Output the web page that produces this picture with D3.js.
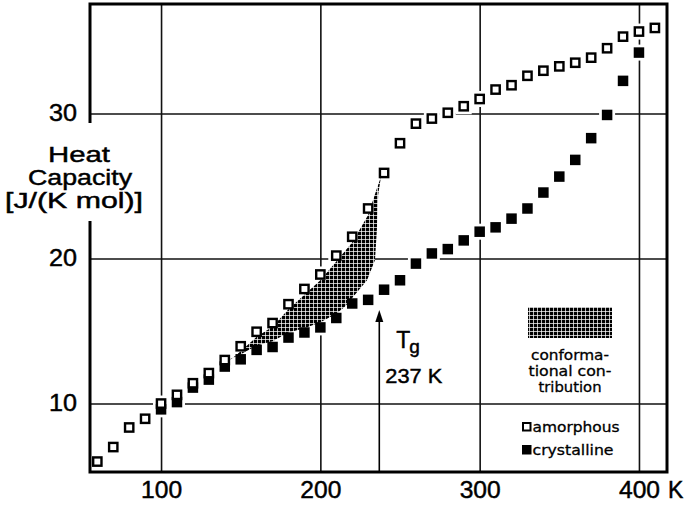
<!DOCTYPE html>
<html>
<head>
<meta charset="utf-8">
<script src="https://cdn.jsdelivr.net/npm/d3@7"></script>
<style>
  html, body { margin: 0; padding: 0; background: #fff; }
  svg { display: block; font-family: "Liberation Sans", Arial, Helvetica, sans-serif; }
  svg text { stroke: #000; stroke-width: 0.45px; fill: #000; }
</style>
</head>
<body>
<div id="chart"></div>
<script>
// Data (temperature in K, heat capacity in J/(K mol))
const amorphousT = [60, 70, 80, 90, 100, 110, 120, 130, 140, 150, 160, 170, 180, 190, 200, 210, 220, 230, 240,
  250, 260, 270, 280, 290, 300, 310, 320, 330, 340, 350, 360, 370, 380, 390, 400, 410]
const amorphousCp = [6.0, 7.0, 8.35, 8.95, 10.0, 10.6, 11.4, 12.1, 13.0, 13.95, 14.95, 15.55, 16.85, 17.9, 18.9, 20.2,
  21.5, 23.45, 25.9, 27.95, 29.3, 29.65, 30.05, 30.5, 31.0, 31.65, 31.95, 32.6, 32.95, 33.25, 33.5, 33.85, 34.5, 35.3, 35.65, 35.9]

const crystallineT = [100, 110, 120, 130, 140, 150, 160, 170, 180, 190, 200, 210, 220, 230, 240, 250, 260, 270, 280,
  290, 300, 310, 320, 330, 340, 350, 360, 370, 380, 390, 400]
const crystallineCp = [9.6, 10.1, 11.1, 11.65, 12.55, 13.05, 13.7, 13.9, 14.55, 14.9, 15.25, 15.9, 16.9, 17.15, 17.85,
  18.5, 19.65, 20.35, 20.65, 21.25, 21.85, 22.15, 22.75, 23.45, 24.55, 25.65, 26.8, 28.3, 29.9, 32.25, 34.2]

// outline of the shaded "conformational contribution" area
const shadeOutline = [[140, 12.7], [150, 13.6], [160, 14.6], [170, 15.3], [180, 16.5], [190, 17.5], [200, 18.5],
  [210, 19.8], [220, 21.1], [230, 23.0], [236, 25.0], [238, 25.6], [236.3, 24.4], [235.6, 22.2], [234.3, 19.9],
  [229.3, 18.5], [220.5, 17.35], [215.5, 16.7], [210, 16.2], [200, 15.6], [190, 15.2], [180, 14.9], [170, 14.3],
  [160, 14.0], [150, 13.4], [140, 12.9]]

const xTicks = [100, 200, 300, 400]
const yTicks = [10, 20, 30]
const yLabelLines = ['Heat', 'Capacity', '[J/(K mol)]']
const shadeLabelLines = ['conforma-', 'tional con-', 'tribution']
const tg = { T: 237, from: 5.28, to: 16.45, label: '237 K' }

// SVG
const W = 693, H = 506
const margin = { top: 4, right: 26, bottom: 34, left: 90 }
const chartWidth = W - margin.left - margin.right
const chartHeight = H - margin.top - margin.bottom

const svg = d3.select('#chart').append('svg').attr('width', W).attr('height', H)

const defs = svg.append('defs')
const pat = defs.append('pattern').attr('id', 'hatch')
  .attr('patternUnits', 'userSpaceOnUse').attr('width', 4).attr('height', 4)
pat.append('rect').attr('width', 4).attr('height', 4).attr('fill', '#000')
pat.append('path').attr('d', 'M0,3.6H4M3.6,0V4').attr('stroke', '#fff').attr('stroke-width', 0.8)

// Scales
const x = d3.scaleLinear().domain([55.4, 417.6]).range([0, chartWidth])
const y = d3.scaleLinear().domain([5.28, 37.55]).range([chartHeight, 0])

const g = svg.append('g').attr('transform', `translate(${margin.left},${margin.top})`)

// Grid
g.append('g').call(d3.axisBottom(x).tickValues(xTicks).tickSize(chartHeight).tickFormat(''))
  .call(s => s.select('.domain').remove())
  .selectAll('line').attr('stroke', '#111').attr('stroke-width', 1.6)
g.append('g').call(d3.axisLeft(y).tickValues(yTicks).tickSize(-chartWidth).tickFormat(''))
  .call(s => s.select('.domain').remove())
  .selectAll('line').attr('stroke', '#111').attr('stroke-width', 1.6)

const amorphous = amorphousT.map((t, i) => ({ t, cp: amorphousCp[i] }))
const crystalline = crystallineT.map((t, i) => ({ t, cp: crystallineCp[i] }))

// White halos that break the grid lines around the points
const halo = 8
g.append('g').selectAll('rect').data(amorphous.concat(crystalline)).join('rect')
  .attr('x', d => x(d.t) - halo).attr('y', d => y(d.cp) - halo)
  .attr('width', halo * 2).attr('height', halo * 2).attr('fill', '#fff')

// Conformational contribution
g.append('path')
  .attr('d', d3.line().x(d => x(d[0])).y(d => y(d[1]))(shadeOutline) + 'Z')
  .attr('fill', 'url(#hatch)')

// Points
const s = 10.5
g.append('g').selectAll('rect').data(crystalline).join('rect')
  .attr('x', d => x(d.t) - s / 2).attr('y', d => y(d.cp) - s / 2)
  .attr('width', s).attr('height', s).attr('fill', '#000')
g.append('g').selectAll('rect').data(amorphous).join('rect')
  .attr('x', d => x(d.t) - s / 2 + 1.1).attr('y', d => y(d.cp) - s / 2 + 1.1)
  .attr('width', s - 2.2).attr('height', s - 2.2)
  .attr('fill', '#fff').attr('stroke', '#000').attr('stroke-width', 2.4)

// Tg arrow
const ax = x(tg.T)
g.append('line').attr('x1', ax).attr('x2', ax).attr('y1', y(tg.from)).attr('y2', y(tg.to) + 8)
  .attr('stroke', '#000').attr('stroke-width', 1.6)
g.append('path')
  .attr('d', `M${ax},${y(tg.to)}L${ax - 4},${y(tg.to) + 12}L${ax + 4},${y(tg.to) + 12}Z`)
  .attr('fill', '#000')
const tgText = g.append('text').attr('x', ax + 17).attr('y', y(tg.to) + 38)
  .attr('font-size', 23)
tgText.append('tspan').text('T')
tgText.append('tspan').attr('dx', -1).attr('dy', 5).attr('font-size', 19).text('g')
g.append('text').attr('x', ax + 6).attr('y', y(tg.to) + 73)
  .attr('font-size', 21).attr('textLength', 57).attr('lengthAdjust', 'spacingAndGlyphs').text(tg.label)

// Legend
const lx = 438, ly = 303
g.append('rect').attr('x', lx).attr('y', ly).attr('width', 84).attr('height', 31).attr('fill', 'url(#hatch)')
g.append('g').selectAll('text').data(shadeLabelLines).join('text')
  .attr('x', lx + 42).attr('y', (d, i) => ly + 53 + i * 16)
  .attr('text-anchor', 'middle').attr('font-size', 14).attr('font-family', '"DejaVu Sans", sans-serif')
  .style('stroke-width', '0.3px')
  .attr('textLength', (d, i) => [78, 83, 63][i]).attr('lengthAdjust', 'spacingAndGlyphs')
  .text(d => d)

const legendItems = [{ label: 'amorphous', fill: '#fff', w: 87 }, { label: 'crystalline', fill: '#000', w: 81 }]
const leg = g.append('g').attr('transform', 'translate(432,418)')
leg.selectAll('rect').data(legendItems).join('rect')
  .attr('x', (d) => d.fill === '#fff' ? 1 : 0).attr('y', (d, i) => i * 23 + (d.fill === '#fff' ? 1 : 0))
  .attr('width', d => d.fill === '#fff' ? 7.5 : 9.5).attr('height', d => d.fill === '#fff' ? 7.5 : 9.5)
  .attr('fill', d => d.fill).attr('stroke', '#000').attr('stroke-width', d => d.fill === '#fff' ? 2 : 0)
leg.selectAll('text').data(legendItems).join('text')
  .attr('x', 10.5).attr('y', (d, i) => i * 23 + 9.5)
  .attr('font-size', 14).attr('font-family', '"DejaVu Sans", sans-serif')
  .style('stroke-width', '0.3px')
  .attr('textLength', d => d.w).attr('lengthAdjust', 'spacingAndGlyphs')
  .text(d => d.label)

// Frame
g.append('rect').attr('width', chartWidth).attr('height', chartHeight)
  .attr('fill', 'none').attr('stroke', '#000').attr('stroke-width', 3)

// Tick labels
const xAxis = g.append('g').attr('transform', `translate(0,${chartHeight})`)
  .call(d3.axisBottom(x).tickValues(xTicks).tickSize(0).tickPadding(10))
xAxis.select('.domain').remove()
xAxis.selectAll('text').attr('font-size', 23).attr('fill', '#000')
  .attr('textLength', 41).attr('lengthAdjust', 'spacingAndGlyphs')
xAxis.append('text').attr('x', x(400) + 29).attr('y', 10).attr('dy', '0.71em')
  .attr('font-size', 23).attr('fill', '#000').attr('text-anchor', 'start').text('K')

const yAxis = g.append('g').call(d3.axisLeft(y).tickValues(yTicks).tickSize(0).tickPadding(13))
yAxis.select('.domain').remove()
yAxis.selectAll('text').attr('font-size', 23).attr('fill', '#000')
  .attr('textLength', 28).attr('lengthAdjust', 'spacingAndGlyphs')

// Y label sits over the frame on a white ground
svg.append('rect').attr('x', 0).attr('y', 123).attr('width', 150).attr('height', 98).attr('fill', '#fff')
svg.append('g').selectAll('text').data(yLabelLines).join('text')
  .attr('x', (d, i) => [79, 80, 74][i]).attr('y', (d, i) => 162 + i * 23)
  .attr('text-anchor', 'middle').attr('font-size', 22)
  .attr('textLength', (d, i) => [62, 104, 138][i]).attr('lengthAdjust', 'spacingAndGlyphs')
  .text(d => d)
</script>
</body>
</html>
